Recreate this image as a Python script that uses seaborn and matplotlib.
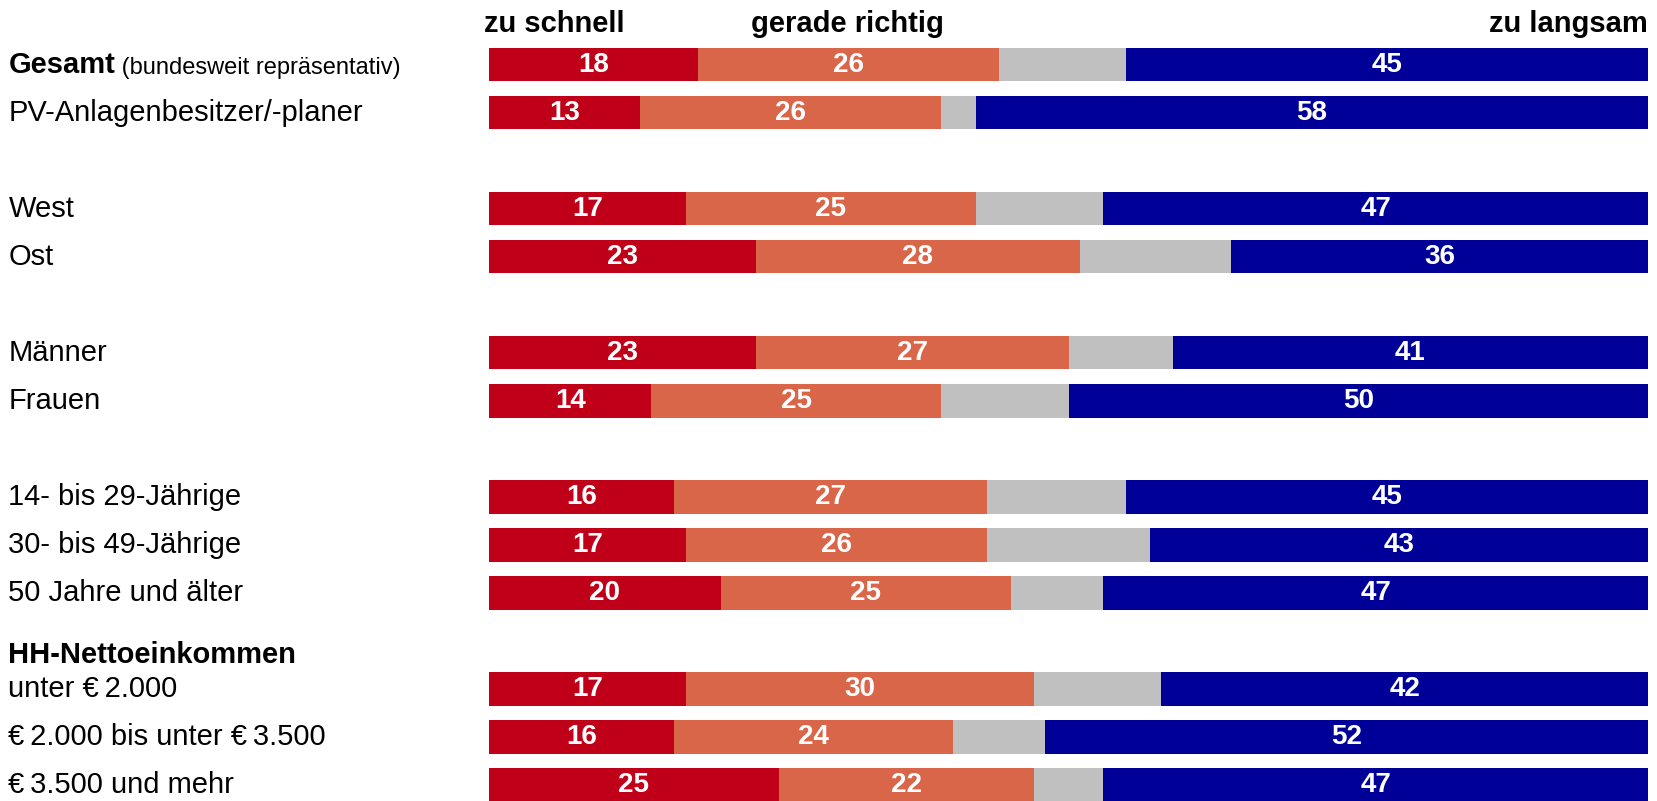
import numpy as np
import pandas as pd
import matplotlib
matplotlib.use("Agg")
import matplotlib.pyplot as plt
import seaborn as sns

# answers in percent
groups = ["Gesamt", "PV-Anlagenbesitzer/-planer", "West", "Ost", "Männer", "Frauen",
          "14- bis 29-Jährige", "30- bis 49-Jährige", "50 Jahre und älter",
          "unter €\u20092.000", "€\u20092.000 bis unter €\u20093.500", "€\u20093.500 und mehr"]
zu_schnell = [18, 13, 17, 23, 23, 14, 16, 17, 20, 17, 16, 25]
gerade_richtig = [26, 26, 25, 28, 27, 25, 27, 26, 25, 30, 24, 22]
weiss_nicht = [11, 3, 11, 13, 9, 11, 12, 14, 8, 11, 8, 6]
zu_langsam = [45, 58, 47, 36, 41, 50, 45, 43, 47, 42, 52, 47]

header_labels = ["zu schnell", "gerade richtig", "zu langsam"]
income_header = "HH-Nettoeinkommen"

# layout: row slots with gaps between the blocks
row_pos = [0, 1, 3, 4, 6, 7, 9, 10, 11, 13, 14, 15]
colors = ["#C00018", "#DA6649", "#C0C0C0", "#000099"]

df = pd.DataFrame({"group": groups, "pos": row_pos,
                   "s1": zu_schnell, "s2": gerade_richtig,
                   "s3": weiss_nicht, "s4": zu_langsam})
segs = ["s1", "s2", "s3", "s4"]
cum = df[segs].cumsum(axis=1)

sns.set_style("white")
plt.rcParams["font.family"] = ["Liberation Sans", "DejaVu Sans"]
plt.rcParams["text.color"] = "black"

fig = plt.figure(figsize=(16.57, 8.01), dpi=100)
ax = fig.add_axes([0, 0, 1, 1])

# stacked bars: draw cumulative totals, biggest first
for seg, col in reversed(list(zip(segs, colors))):
    sns.barplot(x=cum[seg], y=df["pos"], orient="y", native_scale=True,
                color=col, saturation=1, width=0.7, linewidth=0,
                errorbar=None, ax=ax)

# numbers in the coloured segments (not in grey)
for i, r in df.iterrows():
    left = 0
    for k, seg in enumerate(segs):
        v = r[seg]
        if k != 2:
            ax.text(left + v / 2, r["pos"], str(v), ha="center", va="center",
                    color="white", fontsize=20, fontweight="bold")
        left += v

px_x = 11.59   # px per percent
ax.set_xlim(-489 / px_x, 100 + 9 / px_x)
ax.set_ylim(15.334, -1.343)
ax.axis("off")

lab_x = -489 / px_x + 8.5 / px_x
for i, r in df.iterrows():
    if i == 0:
        t = ax.text(lab_x, r["pos"], r["group"], ha="left", va="center",
                    fontsize=21, fontweight="bold")
        ax.annotate(" (bundesweit repräsentativ)", xy=(1, 0), xycoords=t,
                    ha="left", va="bottom", fontsize=17)
    else:
        ax.text(lab_x, r["pos"], r["group"], ha="left", va="center", fontsize=21)

ax.text(lab_x, 12.3, income_header, ha="left", va="center",
        fontsize=21, fontweight="bold")

head_y = -0.84
ax.text(-0.4, head_y, header_labels[0], ha="left", va="center", fontsize=21, fontweight="bold")
ax.text(30.9, head_y, header_labels[1], ha="center", va="center", fontsize=21, fontweight="bold")
ax.text(100, head_y, header_labels[2], ha="right", va="center", fontsize=21, fontweight="bold")

plt.savefig("out.png", dpi=100)
